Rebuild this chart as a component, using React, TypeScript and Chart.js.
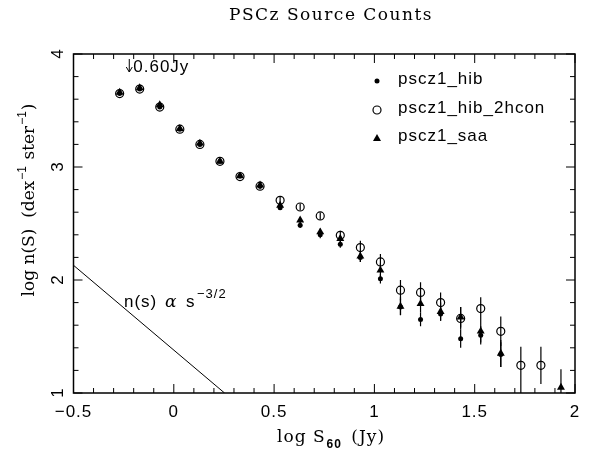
import React, { useEffect, useRef } from "react";
import { Chart, registerables } from "chart.js";

Chart.register(...registerables);

// ---- data ----
const LOG_S = [-0.27, -0.17, -0.07, 0.03, 0.13, 0.23, 0.33, 0.43, 0.53, 0.63, 0.73, 0.83, 0.93, 1.03, 1.13, 1.23, 1.33, 1.43, 1.53, 1.63, 1.73, 1.83, 1.93];
const HIB = [3.65, 3.69, 3.53, 3.335, 3.2, 3.05, 2.92, 2.83, 2.64, 2.485, 2.4, 2.316, 2.2, 2.01, 1.76, 1.65, 1.7, 1.48, 1.51, 1.34, null, null, null];
const HIB_ERR = [0.01, 0.01, 0.01, 0.01, 0.01, 0.01, 0.015, 0.02, 0.02, 0.025, 0.03, 0.03, 0.04, 0.04, 0.07, 0.06, 0.06, 0.08, 0.08, 0.11, 0, 0, 0];
const HIB_2HCON = [3.65, 3.69, 3.53, 3.335, 3.2, 3.05, 2.915, 2.83, 2.705, 2.646, 2.567, 2.395, 2.287, 2.16, 1.91, 1.89, 1.8, 1.66, 1.747, 1.546, 1.245, 1.245, null];
const HIB_2HCON_ERR_HI = [0.01, 0.01, 0.01, 0.01, 0.01, 0.01, 0.015, 0.02, 0.03, 0.03, 0.03, 0.04, 0.06, 0.07, 0.09, 0.09, 0.09, 0.1, 0.1, 0.13, 0.165, 0.165, 0];
const HIB_2HCON_ERR_LO = [0.01, 0.01, 0.01, 0.01, 0.01, 0.01, 0.015, 0.02, 0.03, 0.03, 0.03, 0.04, 0.06, 0.07, 0.09, 0.09, 0.09, 0.1, 0.1, 0.13, 0.3, 0.165, 0];
const SAA = [3.66, 3.7, 3.55, 3.34, 3.21, 3.05, 2.92, 2.84, 2.66, 2.53, 2.425, 2.366, 2.21, 2.086, 1.767, 1.79, 1.72, 1.67, 1.546, 1.35, null, null, 1.05];
const SAA_ERR = [0.01, 0.01, 0.01, 0.01, 0.01, 0.01, 0.015, 0.02, 0.02, 0.025, 0.03, 0.03, 0.05, 0.06, 0.08, 0.08, 0.08, 0.09, 0.1, 0.12, 0, 0, 0.16];

const POWER_LAW_X = [-0.5, 0.253];
const POWER_LAW_Y = [2.13, 1.0];
const FLUX_LIMIT_X = -0.222; // log10(0.6 Jy)

const X_MIN = -0.5, X_MAX = 2, Y_MIN = 1, Y_MAX = 4;
const X_TICKS = [-0.5, 0, 0.5, 1, 1.5, 2];
const X_TICK_LABELS = ["\u22120.5", "0", "0.5", "1", "1.5", "2"];
const Y_TICKS = [1, 2, 3, 4];
const Y_TICK_LABELS = ["1", "2", "3", "4"];
const X_MINOR_STEP = 0.1;
const Y_MINOR_STEP = 0.2;

const SERIES_NAMES = ["pscz1_hib", "pscz1_hib_2hcon", "pscz1_saa"];

const SANS = "Liberation Sans, Arial, sans-serif";
const SERIF = "DejaVu Serif, serif";

function pts(ys: (number | null)[], errHi: number[], errLo: number[]) {
  const out: any[] = [];
  LOG_S.forEach((x, i) => {
    if (ys[i] !== null) out.push({ x, y: ys[i], eHi: errHi[i], eLo: errLo[i] });
  });
  return out;
}

const errorBarPlugin = {
  id: "errorBars",
  beforeDatasetsDraw(chart: any) {
    const { ctx, chartArea: ca, scales } = chart;
    ctx.save();
    ctx.beginPath();
    ctx.rect(ca.left, ca.top, ca.width, ca.height);
    ctx.clip();
    ctx.strokeStyle = "#000";
    ctx.lineWidth = 1.2;
    chart.data.datasets.forEach((ds: any) => {
      if (!ds.errorBars) return;
      ds.data.forEach((p: any) => {
        if (!p.eHi && !p.eLo) return;
        const px = scales.x.getPixelForValue(p.x);
        const y1 = scales.y.getPixelForValue(p.y - p.eLo);
        const y2 = scales.y.getPixelForValue(p.y + p.eHi);
        ctx.beginPath();
        ctx.moveTo(px, y1);
        ctx.lineTo(px, y2);
        ctx.stroke();
      });
    });
    ctx.restore();
  },
};

function spacedText(ctx: CanvasRenderingContext2D, text: string, x: number, y: number, spacing: string) {
  (ctx as any).letterSpacing = spacing;
  ctx.fillText(text, x, y);
  (ctx as any).letterSpacing = "0px";
}

const decorPlugin = {
  id: "decor",
  afterDraw(chart: any) {
    const { ctx, chartArea: ca, scales } = chart;
    const xs = scales.x, ys = scales.y;
    ctx.save();
    ctx.strokeStyle = "#000";
    ctx.fillStyle = "#000";
    // frame
    ctx.lineWidth = 1.5;
    ctx.strokeRect(ca.left, ca.top, ca.width, ca.height);
    // ticks
    ctx.lineWidth = 1;
    const nx = Math.round((X_MAX - X_MIN) / X_MINOR_STEP);
    for (let i = 0; i <= nx; i++) {
      const v = X_MIN + i * X_MINOR_STEP;
      const px = xs.getPixelForValue(v);
      const len = i % 5 === 0 ? 9 : 5;
      ctx.beginPath();
      ctx.moveTo(px, ca.bottom); ctx.lineTo(px, ca.bottom - len);
      ctx.moveTo(px, ca.top); ctx.lineTo(px, ca.top + len);
      ctx.stroke();
    }
    const ny = Math.round((Y_MAX - Y_MIN) / Y_MINOR_STEP);
    for (let i = 0; i <= ny; i++) {
      const v = Y_MIN + i * Y_MINOR_STEP;
      const py = ys.getPixelForValue(v);
      const len = i % 5 === 0 ? 9 : 5;
      ctx.beginPath();
      ctx.moveTo(ca.left, py); ctx.lineTo(ca.left + len, py);
      ctx.moveTo(ca.right, py); ctx.lineTo(ca.right - len, py);
      ctx.stroke();
    }
    // x tick labels
    ctx.font = `17px ${SANS}`;
    ctx.textAlign = "center";
    ctx.textBaseline = "alphabetic";
    X_TICKS.forEach((v, i) => {
      spacedText(ctx, X_TICK_LABELS[i], xs.getPixelForValue(v), ca.bottom + 24, "1px");
    });
    // y tick labels (rotated)
    Y_TICKS.forEach((v, i) => {
      ctx.save();
      ctx.translate(ca.left - 11, ys.getPixelForValue(v));
      ctx.rotate(-Math.PI / 2);
      ctx.fillText(Y_TICK_LABELS[i], 0, 0);
      ctx.restore();
    });
    // title
    ctx.font = `17px ${SERIF}`;
    ctx.textAlign = "center";
    spacedText(ctx, "PSCz Source Counts", 331, 20, "1.5px");
    // x axis title
    ctx.textAlign = "left";
    ctx.font = `17px ${SERIF}`;
    let cx = 277;
    const bx = 442;
    (ctx as any).letterSpacing = "1px";
    ctx.fillText("log S", cx, bx);
    cx += ctx.measureText("log S").width;
    ctx.font = `bold 12px ${SANS}`;
    ctx.fillText("60", cx + 1, bx + 6);
    cx += ctx.measureText("60").width + 4;
    ctx.font = `17px ${SERIF}`;
    ctx.fillText(" (Jy)", cx, bx);
    (ctx as any).letterSpacing = "0px";
    // y axis title (rotated)
    ctx.save();
    ctx.translate(34, 0);
    ctx.rotate(-Math.PI / 2);
    const parts: [string, boolean][] = [["log n(S)  (dex", false], ["\u22121", true], [" ster", false], ["\u22121", true], [")", false]];
    let total = 0;
    parts.forEach(([t, sup]) => {
      ctx.font = sup ? `12px ${SANS}` : `17px ${SERIF}`;
      total += ctx.measureText(t).width + (sup ? 2 : 0);
    });
    let ty = -200 - total / 2;
    ctx.textAlign = "left";
    parts.forEach(([t, sup]) => {
      ctx.font = sup ? `12px ${SANS}` : `17px ${SERIF}`;
      ctx.fillText(t, ty + (sup ? 1 : 0), sup ? -8 : 0);
      ty += ctx.measureText(t).width + (sup ? 2 : 0);
    });
    ctx.restore();
    // flux limit arrow
    const ax = xs.getPixelForValue(FLUX_LIMIT_X);
    ctx.lineWidth = 1;
    ctx.beginPath();
    ctx.moveTo(ax, ca.top + 5);
    ctx.lineTo(ax, ca.top + 18);
    ctx.moveTo(ax - 3, ca.top + 13);
    ctx.lineTo(ax, ca.top + 18);
    ctx.lineTo(ax + 3, ca.top + 13);
    ctx.stroke();
    ctx.font = `17px ${SANS}`;
    ctx.textAlign = "left";
    spacedText(ctx, "0.60Jy", ax + 4, ca.top + 18, "1px");
    // power-law label
    ctx.font = `17px ${SANS}`;
    spacedText(ctx, "n(s)", 124, 307, "1px");
    ctx.font = `italic 17px ${SERIF}`;
    ctx.fillText("\u03b1", 165, 307);
    ctx.font = `17px ${SANS}`;
    ctx.fillText("s", 186, 307);
    ctx.font = `13px ${SANS}`;
    spacedText(ctx, "\u22123/2", 197, 298, "1px");
    // legend
    const lx = 377;
    const rows = [84, 113, 141];
    ctx.font = `17px ${SANS}`;
    ctx.textAlign = "left";
    rows.forEach((by, i) => {
      const my = by - 3;
      ctx.beginPath();
      if (i === 0) {
        ctx.arc(lx, my, 2.5, 0, Math.PI * 2);
        ctx.fill();
      } else if (i === 1) {
        ctx.lineWidth = 1.2;
        ctx.arc(lx, my, 4, 0, Math.PI * 2);
        ctx.stroke();
      } else {
        ctx.moveTo(lx, my - 4);
        ctx.lineTo(lx + 4, my + 3);
        ctx.lineTo(lx - 4, my + 3);
        ctx.closePath();
        ctx.fill();
      }
      spacedText(ctx, SERIES_NAMES[i], 398, by, "1px");
    });
    ctx.restore();
  },
};

export default function App() {
  const ref = useRef<HTMLCanvasElement | null>(null);
  useEffect(() => {
    if (!ref.current) return;
    const chart = new Chart(ref.current, {
      type: "scatter",
      data: {
        datasets: [
          {
            label: SERIES_NAMES[0],
            data: pts(HIB, HIB_ERR, HIB_ERR),
            pointStyle: "circle",
            pointRadius: 2.5,
            backgroundColor: "#000",
            borderColor: "#000",
            borderWidth: 0,
            errorBars: true,
          } as any,
          {
            label: SERIES_NAMES[1],
            data: pts(HIB_2HCON, HIB_2HCON_ERR_HI, HIB_2HCON_ERR_LO),
            pointStyle: "circle",
            pointRadius: 4,
            backgroundColor: "rgba(0,0,0,0)",
            borderColor: "#000",
            borderWidth: 1.2,
            errorBars: true,
          } as any,
          {
            label: SERIES_NAMES[2],
            data: pts(SAA, SAA_ERR, SAA_ERR),
            pointStyle: "triangle",
            pointRadius: 4.6,
            backgroundColor: "#000",
            borderColor: "#000",
            borderWidth: 0,
            errorBars: true,
          } as any,
          {
            label: "power law",
            data: POWER_LAW_X.map((x, i) => ({ x, y: POWER_LAW_Y[i] })),
            showLine: true,
            pointRadius: 0,
            borderColor: "#000",
            borderWidth: 1,
            backgroundColor: "#000",
          } as any,
        ],
      },
      options: {
        animation: false,
        responsive: false,
        events: [],
        layout: { padding: { left: 73.5, right: 15, top: 54, bottom: 68 } },
        scales: {
          x: { type: "linear", min: X_MIN, max: X_MAX, display: false },
          y: { type: "linear", min: Y_MIN, max: Y_MAX, display: false },
        },
        plugins: { legend: { display: false }, tooltip: { enabled: false }, title: { display: false } },
      },
      plugins: [errorBarPlugin, decorPlugin],
    });
    return () => chart.destroy();
  }, []);
  return (
    <div style={{ position: "absolute", left: 0, top: 0, width: 590, height: 461, background: "#fff" }}>
      <canvas ref={ref} width={590} height={461} style={{ display: "block" }} />
    </div>
  );
}
